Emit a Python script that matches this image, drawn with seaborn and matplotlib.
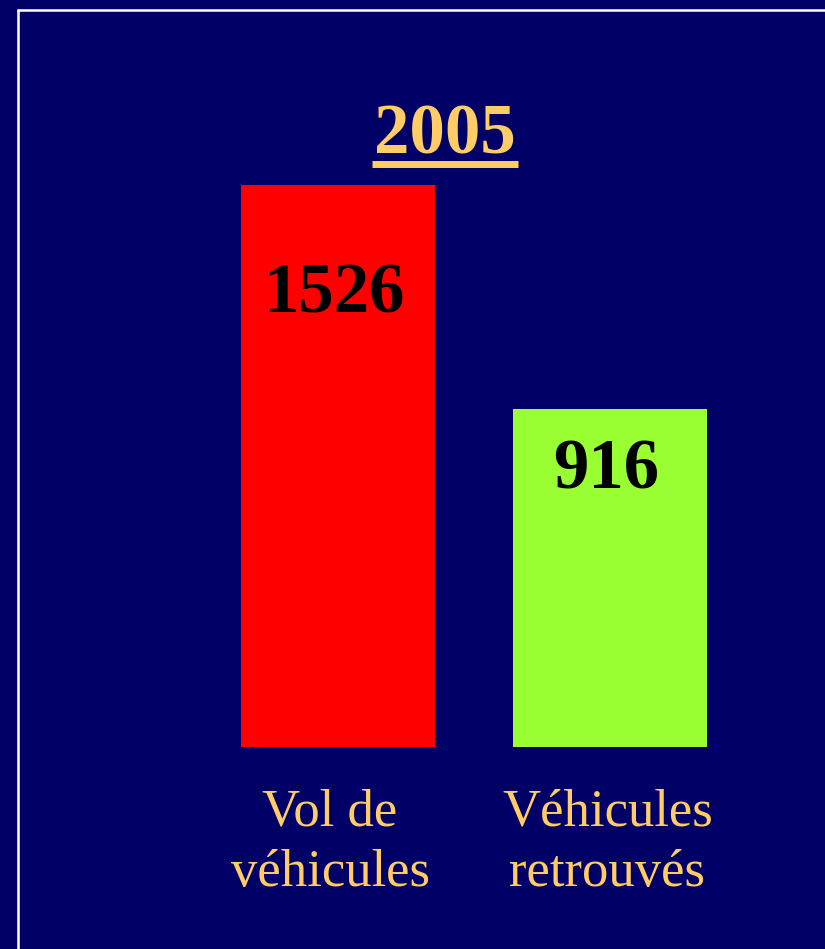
import matplotlib
matplotlib.use("Agg")
import matplotlib.pyplot as plt
import matplotlib.transforms as mtransforms
import seaborn as sns
import pandas as pd
from matplotlib.lines import Line2D

# Données
categories = ["Vol de\nvéhicules", "Véhicules\nretrouvés"]
valeurs = [1526, 916]
couleurs = ["#FF0000", "#99FF33"]
titre = "2005"

fond = "#000066"
texte = "#FFCC66"

sns.set_style("dark")
plt.rcParams["font.family"] = ["Liberation Serif", "DejaVu Serif"]

df = pd.DataFrame({"cat": categories, "val": valeurs})

fig = plt.figure(figsize=(8.25, 9.49), dpi=100, facecolor=fond)
ax = fig.add_axes([202 / 825, 1 - 746.5 / 949, 544.5 / 825, 561.5 / 949])
ax.set_facecolor(fond)

sns.barplot(data=df, x="cat", y="val", hue="cat", palette=couleurs,
            saturation=1, width=0.713, legend=False, linewidth=0, ax=ax)

ax.set_xlim(-0.5, 1.5)
ax.set_ylim(0, max(valeurs))
ax.set_xlabel("")
ax.set_ylabel("")
ax.set_yticks([])
ax.grid(False)
for s in ax.spines.values():
    s.set_visible(False)
ax.tick_params(axis="x", length=0, pad=30.5, labelsize=38, labelcolor=texte)
# petit décalage horizontal des étiquettes (en pixels)
decal_x = [-8, -3]
for lab, dx in zip(ax.get_xticklabels(), decal_x):
    lab.set_linespacing(1.32)
    lab.set_transform(lab.get_transform() +
                      mtransforms.ScaledTranslation(dx / 100, 0, fig.dpi_scale_trans))

# valeurs dans les barres (décalage vertical en points)
decalages = [-92, -57]
for i, v in enumerate(valeurs):
    ax.annotate(str(v), (i, v), xytext=(-3, decalages[i]), textcoords="offset points",
                ha="center", va="baseline", fontsize=51, fontweight="bold", color="black")

# titre souligné
t = fig.text(445 / 825, 1 - 153 / 949, titre, ha="center", va="baseline",
             fontsize=51, fontweight="bold", color=texte)
fig.canvas.draw()
bb = t.get_window_extent()
W = fig.bbox.width
fig.add_artist(Line2D([(bb.x0 - 2) / W, (bb.x1 + 2) / W], [1 - 163.5 / 949, 1 - 163.5 / 949],
                      transform=fig.transFigure, color=texte, lw=5, solid_capstyle="butt"))

# cadre blanc
fig.add_artist(Line2D([17.5 / 825, 1], [1 - 9.5 / 949, 1 - 9.5 / 949],
                      transform=fig.transFigure, color="white", lw=1.8))
fig.add_artist(Line2D([17.5 / 825, 17.5 / 825], [0, 1 - 9.5 / 949],
                      transform=fig.transFigure, color="white", lw=1.8))

fig.savefig("out.png", dpi=100, facecolor=fond)
